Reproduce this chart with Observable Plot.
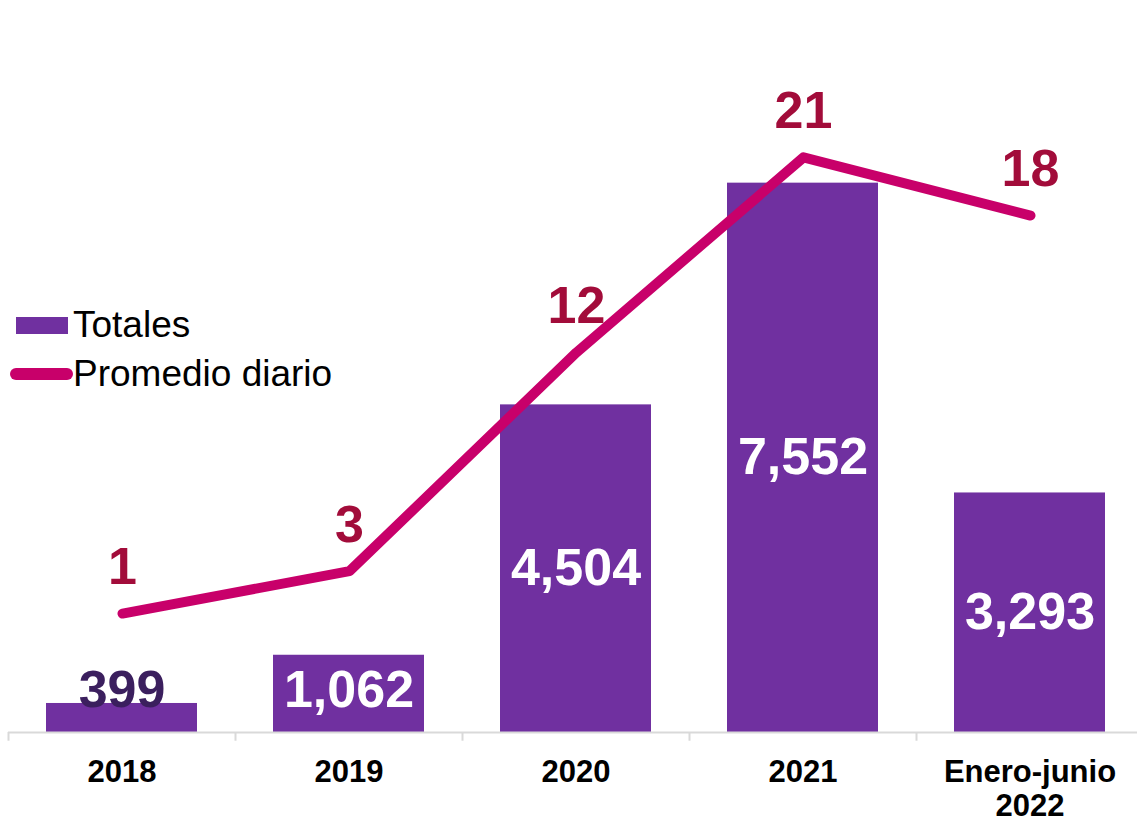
<!DOCTYPE html>
<html>
<head>
<meta charset="utf-8">
<script src="https://cdn.jsdelivr.net/npm/d3@7"></script>
<script src="https://cdn.jsdelivr.net/npm/@observablehq/plot@0.6"></script>
<style>
  html, body { margin: 0; padding: 0; background: #ffffff; }
  #chart { position: relative; width: 1137px; height: 819px; font-family: "Liberation Sans", Arial, sans-serif; }
  #chart svg { position: absolute; left: 0; top: 0; overflow: visible; }
  .leg-swatch { position: absolute; }
  .leg-text { position: absolute; font-size: 37px; line-height: 37px; color: #000; white-space: nowrap; }
</style>
</head>
<body>
<div id="chart">
  <div class="leg-swatch" style="left:16px; top:317px; width:52px; height:17px; background:#7030A0;"></div>
  <div class="leg-text" style="left:73px; top:306px;">Totales</div>
  <div class="leg-swatch" style="left:10px; top:368px; width:63px; height:12px; border-radius:6px; background:#C8006A;"></div>
  <div class="leg-text" style="left:73px; top:355px;">Promedio diario</div>
</div>
<script>
const categories = ["2018", "2019", "2020", "2021", "Enero-junio\n2022"];
const totals = [399, 1062, 4504, 7552, 3293];
const totalLabels = ["399", "1,062", "4,504", "7,552", "3,293"];
const daily = [1.09, 2.91, 12.31, 20.69, 18.19];
const dailyLabels = ["1", "3", "12", "21", "18"];

const rows = categories.map((c, i) => ({
  cat: c, total: totals[i], totalLabel: totalLabels[i], daily: daily[i], dailyLabel: dailyLabels[i]
}));

const W = 1137, H = 819;
const font = "Liberation Sans, Arial, sans-serif";
const xScale = {domain: categories, range: [8, 1143], paddingInner: 0.335, paddingOuter: 0.1675, axis: null};
const common = {width: W, height: H, marginTop: 0, marginBottom: 87, marginLeft: 8, marginRight: 0,
  style: {fontFamily: font, background: "transparent", overflow: "visible"}};

const bars = Plot.plot({
  ...common,
  x: xScale,
  y: {domain: [0, 10063], axis: null},
  marks: [
    Plot.barY(rows, {x: "cat", y: "total", fill: "#7030A0"}),
    Plot.ruleY([0], {stroke: "#D9D9D9", strokeWidth: 2}),
    Plot.ruleX(rows, {x: "cat", dx: -113.5, y1: 0, y2: -120, stroke: "#D9D9D9", strokeWidth: 2}),
    Plot.text(rows.filter(d => d.total >= 800), {x: "cat", y: d => Math.max(d.total / 2, 577), text: "totalLabel",
      fill: "#ffffff", fontSize: 52, fontWeight: "bold"}),
    Plot.text(rows.filter(d => d.total < 800), {x: "cat", y: d => Math.max(d.total / 2, 577), text: "totalLabel",
      fill: "#3B1F5E", fontSize: 52, fontWeight: "bold"}),
    Plot.text(rows, {x: "cat", y: 0, dy: 25, text: "cat", lineAnchor: "top", lineHeight: 1.1,
      fill: "#000000", fontSize: 31, fontWeight: "bold"})
  ]
});

const line = Plot.plot({
  ...common,
  x: xScale,
  y: {domain: [-4.02, 27.43], axis: null},
  marks: [
    Plot.line(rows, {x: "cat", y: "daily", stroke: "#C8006A", strokeWidth: 10,
      strokeLinecap: "round", strokeLinejoin: "round"}),
    Plot.text(rows, {x: "cat", y: "daily", text: "dailyLabel", dy: -46,
      fill: "#A20C3A", fontSize: 52, fontWeight: "bold"})
  ]
});

const chart = document.getElementById("chart");
chart.insertBefore(line, chart.firstChild);
chart.insertBefore(bars, chart.firstChild);
</script>
</body>
</html>
